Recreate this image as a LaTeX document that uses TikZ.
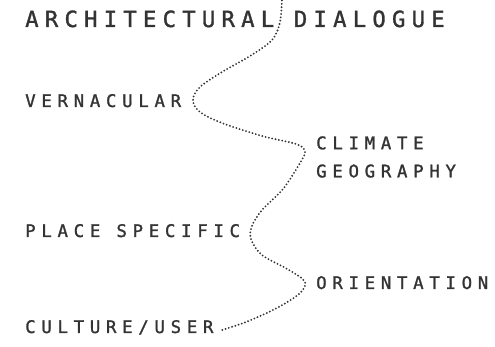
\documentclass[tikz,border=0pt]{standalone}
\usepackage{fontspec}
\usepackage{tikz}
\newfontfamily\titlefont[LetterSpace=28, FakeBold=1.4]{DejaVu Sans Mono}
\newfontfamily\tagfont[LetterSpace=33, FakeBold=1.4]{DejaVu Sans Mono}
\definecolor{ink}{HTML}{333333}

\begin{document}
\begin{tikzpicture}[x=0.03cm, y=-0.03cm,
  heading/.style={inner sep=0pt, anchor=base west, text=ink,
    font=\titlefont\fontsize{19}{22}\selectfont},
  tag/.style={inner sep=0pt, anchor=base west, text=ink, align=left,
    font=\tagfont\fontsize{14.8}{24}\selectfont},
  trail/.style={ink, line width=1.75pt, line cap=round,
    dash pattern=on 0pt off 2.9pt}]
  \useasboundingbox (0,0) rectangle (495,347);

  % Labels
  \node[heading] (title) at (25,27) {ARCHITECTURAL DIALOGUE};
  \node[tag] (vernacular) at (25,107) {VERNACULAR};
  \node[tag, anchor=west] (climate) at (316,157) {CLIMATE\\GEOGRAPHY};
  \node[tag] (place) at (25,237) {PLACE SPECIFIC};
  \node[tag] (orientation) at (316,289) {ORIENTATION};
  \node[tag] (culture) at (25,333) {CULTURE/USER};

  % Coordinates along the path
  \coordinate (P0) at (282,-3);
  \coordinate (P1) at (280,22);
  \coordinate (P2) at (272,40);
  \coordinate (P3) at (250,56);
  \coordinate (P4) at (222,72);
  \coordinate (P5) at (200,87);
  \coordinate (P6) at (193,100);
  \coordinate (P7) at (200,112);
  \coordinate (P8) at (222,123);
  \coordinate (P9) at (262,136);
  \coordinate (P10) at (296,144);
  \coordinate (P11) at (305,151);
  \coordinate (P12) at (300,163);
  \coordinate (P13) at (283,189);
  \coordinate (P14) at (262,210);
  \coordinate (P15) at (252,226);
  \coordinate (P16) at (251,239);
  \coordinate (P17) at (262,255);
  \coordinate (P18) at (289,270);
  \coordinate (P19) at (305,282);
  \coordinate (P20) at (299,294);
  \coordinate (P21) at (275,309);
  \coordinate (P22) at (246,322);
  \coordinate (P23) at (222,330);

  % Drawing
  \draw[trail] plot[smooth, tension=0.55] coordinates {(P0) (P1) (P2) (P3)
    (P4) (P5) (P6) (P7) (P8) (P9) (P10) (P11) (P12) (P13) (P14) (P15)
    (P16) (P17) (P18) (P19) (P20) (P21) (P22) (P23)};
\end{tikzpicture}
\end{document}
